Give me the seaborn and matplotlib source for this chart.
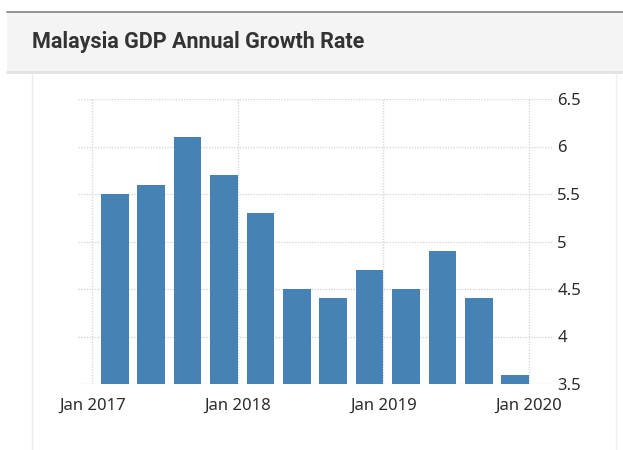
import numpy as np
import pandas as pd
import seaborn as sns
import matplotlib.pyplot as plt
from matplotlib.lines import Line2D
from matplotlib.patches import Rectangle
from matplotlib.ticker import FuncFormatter

quarters = ["Q1 2017", "Q2 2017", "Q3 2017", "Q4 2017",
            "Q1 2018", "Q2 2018", "Q3 2018", "Q4 2018",
            "Q1 2019", "Q2 2019", "Q3 2019", "Q4 2019"]
growth = [5.5, 5.6, 6.1, 5.7, 5.3, 4.5, 4.4, 4.7, 4.5, 4.9, 4.4, 3.6]
year_labels = ["Jan 2017", "Jan 2018", "Jan 2019", "Jan 2020"]
y_ticks = [3.5, 4, 4.5, 5, 5.5, 6, 6.5]

df = pd.DataFrame({"quarter": quarters, "growth": growth})

sns.set_style("white")
plt.rcParams["font.family"] = ["Noto Sans", "DejaVu Sans"]

fig = plt.figure(figsize=(6.23, 4.5), dpi=100)
W, H = 623, 450

# header box
fig.add_artist(Rectangle((7 / W, 1 - 72 / H), 1 - 7 / W, 60 / H, transform=fig.transFigure,
                         facecolor="#f4f4f4", edgecolor="none"))
fig.add_artist(Line2D([7 / W, 1], [1 - 12 / H, 1 - 12 / H], transform=fig.transFigure,
                      color="#8a8a8a", lw=1.3))
fig.add_artist(Line2D([7 / W, 1], [1 - 72 / H, 1 - 72 / H], transform=fig.transFigure,
                      color="#e2e2e2", lw=2))
fig.add_artist(Line2D([32 / W, 32 / W], [0, 1 - 73 / H], transform=fig.transFigure,
                      color="#ececec", lw=1))
fig.add_artist(Line2D([616 / W, 616 / W], [0, 1 - 73 / H], transform=fig.transFigure,
                      color="#f0f0f0", lw=1))
fig.text(32 / W, 1 - 42 / H, "Malaysia GDP Annual Growth Rate", family=["Roboto", "DejaVu Sans"],
         fontsize=15.5, fontweight="bold", color="#333333", va="center", ha="left")

ax = fig.add_axes([78 / W, 1 - 384 / H, (553 - 78) / W, (384 - 99) / H])
sns.barplot(data=df, x="quarter", y="growth", color="#4682b4", width=0.76,
            saturation=1, linewidth=0, ax=ax)

ax.set_ylim(3.5, 6.5)
ax.set_xlim(-1.01, 12.04)
ax.set_yticks(y_ticks)
ax.yaxis.set_major_formatter(FuncFormatter(lambda v, p: f"{v:g}"))
ax.yaxis.tick_right()
ax.set_xticks([-0.62, 3.38, 7.38, 11.38])
ax.set_xticklabels(year_labels)
ax.set_xlabel("")
ax.set_ylabel("")

ax.grid(True, color="#d9d9d9", linestyle=(0, (1, 1)), lw=1)
ax.set_axisbelow(True)
for s in ax.spines.values():
    s.set_visible(False)

ax.tick_params(axis="x", length=3, color="#cccccc", pad=7, labelsize=12, labelcolor="#2b2b2b")
ax.tick_params(axis="y", length=0, pad=3, labelsize=12, labelcolor="#2b2b2b")

fig.savefig("out.png", dpi=100)
